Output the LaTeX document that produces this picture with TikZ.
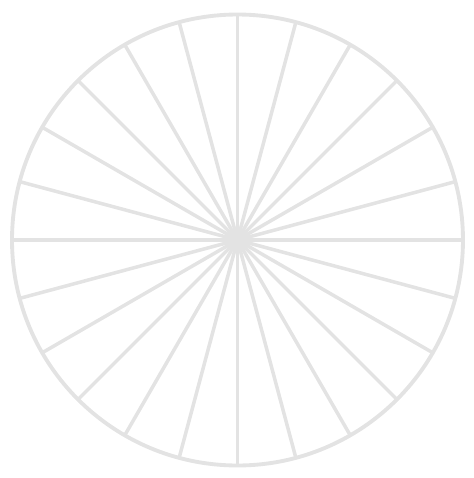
\documentclass[tikz,border=0pt]{standalone}
\usepackage{tikz}

\begin{document}
\begin{tikzpicture}[
  rim/.style={draw=black!11, line width=1.1pt},
  spoke/.style={draw=black!11, line width=1pt},
]
\useasboundingbox (0,0) rectangle (4.74,4.78);
% ---- wheel ----
\coordinate (hub) at (2.375,2.38);
\draw[rim] (hub) circle (2.255);
% ---- spokes, every 15 degrees ----
\foreach \a in {0,15,...,345}
  \draw[spoke] (hub) -- ++(\a:2.255);
\end{tikzpicture}
\end{document}
